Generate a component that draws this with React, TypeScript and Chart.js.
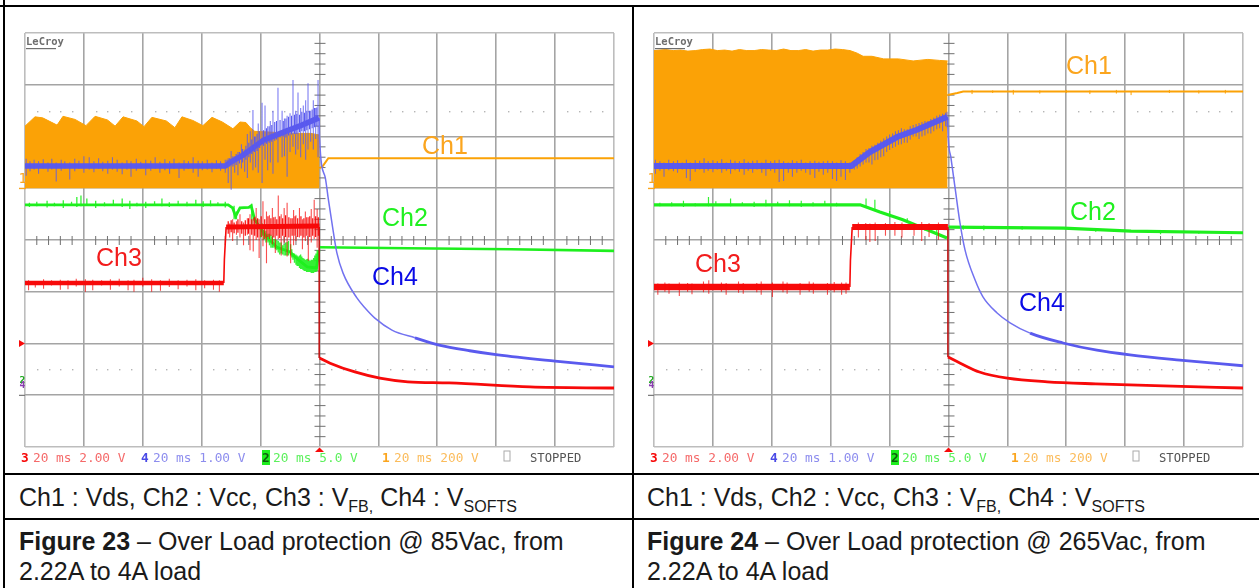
import React, { useEffect, useRef } from "react";
import { Chart, registerables } from "chart.js";

Chart.register(...registerables);

type P = [number, number];
type S = [number, number, number];

// ---- Time base: ms across the screen (20 ms/div); values: screen divisions above the bottom graticule line.

// Figure 23
const orange23T = [0, 3.4, 6, 10.9, 12.9, 17, 20.7, 23.8, 28, 30.6, 33.3, 38, 40.4, 43.1, 48, 50.9, 53.3, 57, 60.4, 63.5, 67, 70.6, 73, 75, 76.5, 78, 85, 92, 97, 100];
const orange23V = [6.2, 6.38, 6.36, 6.22, 6.39, 6.33, 6.21, 6.39, 6.32, 6.2, 6.38, 6.3, 6.19, 6.37, 6.3, 6.17, 6.38, 6.31, 6.21, 6.37, 6.28, 6.15, 6.28, 6.27, 6.17, 6.1, 6.08, 6.06, 6.06, 6.03];
const orange23AfterT = [100, 101, 102, 103, 120, 150, 180, 200];
const orange23AfterV = [5.39, 5.42, 5.5, 5.58, 5.58, 5.58, 5.58, 5.58];
const blue23T = [0, 68, 70, 74, 81, 88, 94, 99.8];
const blue23V = [5.43, 5.43, 5.51, 5.64, 5.93, 6.09, 6.22, 6.36];
const blue23DecayT = [99.9, 100, 101.9, 102.9, 104.6, 105.9, 108, 112.7, 115.4, 118.8, 124.6, 132.4, 140.6, 151, 160.6, 180, 200];
const blue23DecayV = [6.36, 5.99, 5.22, 4.83, 4.19, 3.75, 3.36, 2.88, 2.69, 2.49, 2.26, 2.11, 1.97, 1.86, 1.78, 1.66, 1.55];
const blue23Flat: S[] = [[0.4, 5.24, 5.57], [1.7, 5.33, 5.52], [3.1, 5.36, 5.55], [4.6, 5.28, 5.52], [6.2, 5.38, 5.56], [7.8, 5.32, 5.5], [9.1, 5.36, 5.57], [10.6, 5.13, 5.5], [12.3, 5.34, 5.55], [13.5, 5.38, 5.52], [15.2, 5.17, 5.5], [16.9, 5.33, 5.57], [18.3, 5.37, 5.53], [20, 5.3, 5.62], [21.8, 5.36, 5.6], [23.4, 5.31, 5.52], [25, 5.37, 5.58], [26.4, 5.33, 5.51], [28.1, 5.28, 5.53], [29.7, 5.36, 5.6], [31.3, 5.32, 5.55], [33, 5.27, 5.5], [34.6, 5.36, 5.54], [36, 5.22, 5.52], [37.8, 5.34, 5.57], [39.3, 5.38, 5.51], [41, 5.25, 5.55], [42.7, 5.34, 5.53], [44.2, 5.37, 5.6], [45.8, 5.3, 5.51], [47.5, 5.35, 5.56], [49.1, 5.28, 5.52], [50.6, 5.37, 5.57], [52.3, 5.2, 5.5], [54, 5.34, 5.54], [55.5, 5.37, 5.52], [57.1, 5.3, 5.6], [58.8, 5.22, 5.53], [60.2, 5.35, 5.52], [61.9, 5.36, 5.55], [63.5, 5.31, 5.5], [65, 5.37, 5.54], [66.4, 5.34, 5.52]];
const blue23Rise: S[] = [[68, 5.3, 5.55], [69, 5.1, 5.58], [70, 4.97, 5.72], [71.2, 5.3, 5.62], [72.3, 5.25, 5.7], [73.5, 5.38, 5.85], [74.6, 5.32, 5.75], [75.5, 5.2, 6.05], [76.5, 5.5, 6.1], [77.4, 5.35, 6.51], [78.3, 5.4, 6.0], [79.2, 5.3, 6.25], [80.5, 5.1, 6.65], [81.5, 5.55, 6.6], [82.4, 5.35, 6.2], [83.3, 5.5, 6.3], [84.2, 5.28, 6.5], [85.9, 5.5, 6.94], [87.3, 5.6, 6.5], [88.1, 5.62, 6.35], [89, 5.22, 6.4], [90, 5.7, 6.45], [91, 5.8, 7.09], [91.9, 5.65, 6.5], [92.7, 5.75, 6.85], [93.6, 5.6, 6.55], [94.5, 5.85, 6.6], [95.3, 5.55, 6.7], [96.1, 5.75, 7.03], [97, 5.9, 6.5], [97.9, 5.75, 6.7], [98.7, 5.95, 6.55], [99.5, 5.6, 7.09]];
const blue23RiseBand: S[] = [[68.6, 5.4, 5.55], [69.5, 5.42, 5.58], [70.6, 5.42, 5.62], [71.7, 5.45, 5.66], [72.8, 5.48, 5.7], [73.9, 5.5, 5.76], [75, 5.55, 5.82], [76, 5.6, 5.88], [77, 5.66, 5.94], [77.9, 5.7, 6.0], [78.8, 5.72, 6.05], [79.7, 5.78, 6.1], [81, 5.82, 6.12], [82, 5.86, 6.16], [82.9, 5.88, 6.2], [83.8, 5.9, 6.22], [84.8, 5.92, 6.28], [85.4, 5.94, 6.3], [86.6, 5.98, 6.32], [87.7, 6.0, 6.3], [88.6, 5.98, 6.35], [89.5, 6.02, 6.38], [90.5, 6.04, 6.4], [91.5, 6.05, 6.42], [92.3, 6.05, 6.44], [93.2, 6.08, 6.42], [94, 6.1, 6.48], [94.9, 6.1, 6.46], [95.7, 6.12, 6.5], [96.6, 6.14, 6.5], [97.5, 6.16, 6.52], [98.3, 6.18, 6.55], [99.1, 6.2, 6.56]];
const green23T = [0, 69, 70.5, 71.5, 73, 76, 76.8, 78, 82, 85.6, 90, 91.7, 95.8, 99, 99.8];
const green23V = [4.68, 4.68, 4.62, 4.46, 4.62, 4.63, 4.66, 4.39, 4.06, 3.86, 3.77, 3.67, 3.48, 3.46, 3.8];
const green23AfterT = [100, 130, 165, 200];
const green23AfterV = [3.86, 3.84, 3.82, 3.79];
const green23Noise: S[] = [[1.5, 4.64, 4.72], [4, 4.65, 4.74], [7.5, 4.63, 4.76], [10, 4.65, 4.72], [13, 4.62, 4.77], [15.8, 4.66, 4.74], [17.6, 4.64, 4.83], [19, 4.65, 4.86], [21, 4.66, 4.8], [24, 4.62, 4.76], [27, 4.65, 4.73], [30, 4.66, 4.78], [33, 4.64, 4.8], [35.6, 4.6, 4.76], [38, 4.65, 4.72], [41, 4.62, 4.74], [44, 4.66, 4.75], [46.5, 4.65, 4.8], [49, 4.64, 4.73], [52, 4.66, 4.76], [55, 4.65, 4.74], [58, 4.66, 4.78], [60.5, 4.64, 4.75], [63, 4.65, 4.77], [65.5, 4.66, 4.73], [68, 4.63, 4.74], [71, 4.4, 4.66], [71.8, 4.4, 4.55], [77, 4.3, 4.7], [79, 4.2, 4.4], [80, 4.05, 4.3], [80.6, 4.08, 4.32], [81, 4.0, 4.2], [81.8, 3.95, 4.18], [82.5, 3.95, 4.12], [83, 3.9, 4.12], [83.5, 3.85, 4.1], [84, 3.85, 4.06], [84.5, 3.85, 4.02], [85, 3.82, 4.02], [85.5, 3.8, 4.0], [86, 3.76, 3.98], [86.5, 3.72, 3.95], [87, 3.74, 3.95], [87.5, 3.72, 3.9], [88, 3.7, 3.92], [88.5, 3.7, 3.95], [89, 3.7, 3.96], [89.5, 3.7, 3.98], [90.2, 3.7, 3.92], [90.6, 3.66, 3.82], [91, 3.62, 3.75], [91.5, 3.56, 3.74], [92, 3.52, 3.72], [92.4, 3.5, 3.7], [92.8, 3.5, 3.68], [93.2, 3.46, 3.7], [93.6, 3.44, 3.72], [94, 3.44, 3.68], [94.4, 3.42, 3.65], [94.8, 3.4, 3.64], [95.2, 3.4, 3.62], [95.6, 3.38, 3.63], [96, 3.38, 3.64], [96.4, 3.38, 3.62], [96.8, 3.38, 3.6], [97.2, 3.36, 3.62], [97.6, 3.36, 3.62], [98, 3.36, 3.65], [98.4, 3.38, 3.7], [98.8, 3.38, 3.74], [99.2, 3.4, 3.8]];
const red23T = [0, 67.5, 67.7, 68.3, 100];
const red23V = [3.17, 3.17, 3.62, 4.25, 4.27];
const red23DecayT = [100, 103.6, 112, 120.5, 130, 144, 171.5, 200];
const red23DecayV = [1.72, 1.62, 1.45, 1.33, 1.26, 1.24, 1.16, 1.14];
const red23Noise: S[] = [[1.2, 3.03, 3.22], [3.5, 3.08, 3.21], [6.3, 3.06, 3.24], [9, 3.12, 3.22], [12, 3.04, 3.23], [14.6, 3.05, 3.22], [17.4, 3.1, 3.25], [20.5, 3.0, 3.24], [23, 3.03, 3.23], [26, 3.12, 3.22], [29, 3.04, 3.24], [32, 3.1, 3.25], [35, 3.03, 3.22], [37, 3.0, 3.23], [40, 3.1, 3.27], [43, 3.0, 3.24], [46, 3.02, 3.22], [49, 3.09, 3.25], [52, 3.05, 3.22], [55, 3.1, 3.23], [58, 3.03, 3.24], [61, 3.07, 3.22], [64, 3.04, 3.23], [66, 3.0, 3.22], [69.5, 4.05, 4.32], [70.5, 3.98, 4.4], [71.8, 4.1, 4.36], [73, 4.05, 4.5], [74.2, 3.9, 4.34], [75.5, 4.1, 4.42], [76.4, 3.8, 4.5], [77.5, 3.78, 4.42], [78.5, 4.0, 4.62], [79.5, 3.65, 4.4], [80.8, 3.88, 4.75], [82, 3.55, 4.55], [83, 4.02, 4.48], [84, 3.92, 4.62], [85, 3.75, 4.45], [86, 4.02, 4.86], [87, 3.7, 4.5], [88, 3.95, 4.62], [89, 3.68, 4.72], [90.2, 3.55, 4.42], [91.2, 3.9, 4.58], [92, 3.98, 4.48], [93.2, 4.05, 4.62], [94.2, 3.82, 4.4], [95.2, 3.98, 4.55], [96.2, 3.6, 4.44], [97.2, 3.95, 4.6], [98.2, 4.02, 4.78], [99.2, 3.85, 4.6]];
const red23HighBand: S[] = [[69, 4.12, 4.36], [70, 4.15, 4.38], [71, 4.13, 4.34], [72.3, 4.14, 4.4], [73.6, 4.12, 4.36], [74.8, 4.08, 4.38], [75.9, 4.12, 4.42], [77, 4.1, 4.4], [78, 4.08, 4.45], [79, 4.05, 4.42], [80.2, 4.06, 4.46], [81.4, 4.02, 4.4], [82.5, 4.06, 4.46], [83.5, 4.08, 4.42], [84.5, 4.05, 4.44], [85.5, 4.08, 4.4], [86.5, 4.04, 4.46], [87.5, 4.08, 4.42], [88.5, 4.06, 4.48], [89.6, 4.05, 4.44], [90.7, 4.08, 4.42], [91.7, 4.08, 4.46], [92.6, 4.06, 4.42], [93.7, 4.08, 4.46], [94.7, 4.05, 4.42], [95.7, 4.08, 4.44], [96.7, 4.06, 4.46], [97.7, 4.08, 4.42], [98.7, 4.06, 4.46], [99.6, 4.08, 4.44]];

// Figure 24
const orange24T = [0, 2, 4, 6.5, 9, 11.5, 14, 16.5, 19, 21.5, 24, 26.5, 29, 31.5, 34, 36.5, 39, 41.5, 44, 46.5, 49, 51.5, 54, 56.5, 59, 61.5, 64, 66.6, 69, 71, 74, 78, 83, 88, 93, 97, 99.7];
const orange24V = [7.66, 7.67, 7.68, 7.66, 7.67, 7.65, 7.66, 7.68, 7.69, 7.66, 7.67, 7.65, 7.68, 7.66, 7.66, 7.68, 7.67, 7.66, 7.69, 7.66, 7.66, 7.68, 7.65, 7.67, 7.67, 7.69, 7.68, 7.66, 7.61, 7.55, 7.55, 7.5, 7.5, 7.46, 7.49, 7.47, 7.46];
const orange24AfterT = [99.7, 103, 105, 130, 160, 200];
const orange24AfterV = [6.8, 6.84, 6.87, 6.87, 6.87, 6.87];
const orangeNoise: S[] = [[108, 6.82, 6.9], [115, 6.84, 6.89], [122, 6.81, 6.9], [131, 6.83, 6.89], [140, 6.84, 6.9], [148, 6.82, 6.89], [157, 6.83, 6.9], [162, 6.8, 6.88], [175, 6.84, 6.9], [185, 6.83, 6.89], [194, 6.83, 6.9]];
const blue24T = [0, 67, 73.3, 82.5, 89.3, 99.6];
const blue24V = [5.43, 5.43, 5.7, 5.99, 6.13, 6.38];
const blue24DecayT = [99.7, 99.9, 100.8, 102.2, 103.9, 105.6, 109, 111.7, 116.5, 120.9, 127.7, 138.9, 150.4, 161.6, 178.6, 200];
const blue24DecayV = [6.38, 5.99, 5.6, 5.02, 4.33, 3.81, 3.23, 2.9, 2.59, 2.4, 2.2, 2.01, 1.87, 1.78, 1.68, 1.57];
const blue24Noise: S[] = [[0.5, 5.28, 5.55], [2, 5.34, 5.52], [3.4, 5.22, 5.5], [5, 5.35, 5.55], [6.6, 5.33, 5.52], [8, 5.3, 5.54], [9.6, 5.36, 5.5], [11, 5.2, 5.55], [12.3, 5.14, 5.5], [14, 5.32, 5.54], [15.5, 5.36, 5.53], [17, 5.3, 5.58], [18.4, 5.34, 5.52], [20, 5.31, 5.54], [21.5, 5.36, 5.52], [23, 5.3, 5.56], [24.6, 5.34, 5.5], [26, 5.28, 5.55], [27.5, 5.35, 5.53], [29, 5.32, 5.52], [30.6, 5.26, 5.56], [32, 5.34, 5.51], [33.5, 5.3, 5.53], [35, 5.36, 5.54], [36.6, 5.3, 5.5], [38, 5.24, 5.55], [39.6, 5.34, 5.52], [41, 5.3, 5.54], [42.5, 5.12, 5.55], [44, 5.14, 5.52], [45.6, 5.3, 5.5], [47, 5.22, 5.54], [48.5, 5.3, 5.52], [50, 5.34, 5.55], [51.5, 5.3, 5.5], [53, 5.26, 5.52], [54.6, 5.2, 5.53], [56, 5.32, 5.51], [57.5, 5.26, 5.52], [59, 5.3, 5.53], [60.6, 5.18, 5.52], [62, 5.14, 5.5], [63.5, 5.22, 5.54], [65, 5.16, 5.52], [66.5, 5.3, 5.5], [68, 5.36, 5.54], [69, 5.38, 5.6], [70, 5.42, 5.66], [71, 5.46, 5.7], [72, 5.5, 5.76], [73, 5.5, 5.78], [74, 5.46, 5.82], [75, 5.54, 5.84], [76, 5.55, 5.88], [77, 5.6, 5.92], [78, 5.62, 5.96], [79, 5.7, 6.0], [80, 5.74, 6.04], [81, 5.78, 6.06], [82, 5.8, 6.1], [83, 5.84, 6.12], [84, 5.85, 6.16], [85, 5.88, 6.14], [86, 5.88, 6.14], [87, 5.94, 6.2], [88, 6.0, 6.22], [89, 6.0, 6.24], [90, 5.95, 6.26], [91, 6.0, 6.28], [92, 6.02, 6.3], [93, 6.06, 6.3], [94, 6.06, 6.34], [95, 6.1, 6.36], [96, 6.14, 6.4], [97, 6.16, 6.42], [98, 6.1, 6.44], [99, 6.2, 6.46], [99.5, 6.18, 6.48]];
const green24T = [0, 70, 76.7, 84.5, 91.3, 99.5];
const green24V = [4.68, 4.68, 4.54, 4.39, 4.23, 4.04];
const green24AfterT = [100, 139, 162, 200];
const green24AfterV = [4.25, 4.23, 4.17, 4.14];
const green24Noise: S[] = [[2, 4.65, 4.72], [6, 4.65, 4.73], [10, 4.64, 4.76], [14, 4.65, 4.71], [18.5, 4.65, 4.83], [21, 4.66, 4.75], [26, 4.65, 4.8], [30, 4.66, 4.73], [34, 4.64, 4.74], [38, 4.65, 4.78], [42, 4.66, 4.74], [46, 4.65, 4.77], [50, 4.64, 4.76], [54, 4.65, 4.73], [58, 4.66, 4.76], [62, 4.65, 4.72], [72, 4.62, 4.8], [75, 4.56, 4.78], [80, 4.46, 4.56], [86, 4.33, 4.42], [92, 4.18, 4.3], [96, 4.08, 4.2], [105, 4.2, 4.28], [112, 4.19, 4.28], [125, 4.2, 4.27], [150, 4.16, 4.22], [172, 4.11, 4.18], [185, 4.12, 4.17]];
const red24T = [0, 66.5, 66.7, 67.3, 99.8];
const red24V = [3.09, 3.09, 3.6, 4.25, 4.25];
const red24DecayT = [99.8, 104, 110.5, 120, 133.5, 150, 173, 200];
const red24DecayV = [1.74, 1.62, 1.45, 1.33, 1.26, 1.22, 1.18, 1.14];
const red24Noise: S[] = [[1.3, 2.94, 3.16], [3.7, 3.0, 3.18], [5.1, 2.96, 3.16], [8.6, 2.92, 3.18], [11.4, 3.0, 3.17], [12.9, 2.95, 3.16], [16.8, 2.99, 3.2], [18.6, 2.96, 3.22], [22.9, 3.0, 3.18], [24.5, 2.94, 3.17], [28.7, 2.98, 3.2], [30.3, 2.96, 3.17], [34.9, 2.99, 3.17], [36.4, 2.94, 3.2], [40.2, 2.9, 3.18], [43.8, 2.99, 3.2], [45.2, 2.96, 3.18], [49.6, 2.94, 3.17], [52.7, 3.0, 3.2], [54.1, 2.96, 3.18], [58.9, 2.94, 3.17], [61.2, 2.99, 3.19], [63.7, 2.94, 3.18], [65.2, 2.96, 3.18], [69.4, 4.05, 4.34], [71.9, 4.0, 4.33], [73.3, 3.96, 4.32], [75.1, 3.98, 4.34], [78.6, 4.08, 4.33], [81.8, 4.08, 4.35], [84.2, 4.05, 4.34], [88.3, 4.08, 4.33], [90.9, 3.98, 4.35], [93.4, 4.06, 4.33], [96.6, 4.0, 4.34]];

// Screen annotations
const channelNames = ["Ch1", "Ch2", "Ch3", "Ch4"];
const scopeSettings = ["20 ms 2.00 V", "20 ms 1.00 V", "20 ms 5.0 V", "20 ms 200 V"];
const scopeChannels = ["3", "4", "2", "1"];

const ORANGE = "#fba206";
const GREEN = "#1eef1e";
const RED = "#f70a0a";
const BLUE = "#5a5aee";

const pts = (t: number[], v: number[]) => t.map((x, i) => ({ x, y: v[i] }));
const spikes = (list: S[]) => list.flatMap(([x, lo, hi]) => [{ x, y: lo }, { x, y: hi }, { x, y: null as any }]);

const line = (data: any[], color: string, width: number, extra: any = {}) => ({
  data,
  borderColor: color,
  backgroundColor: color,
  borderWidth: width,
  pointRadius: 0,
  tension: 0,
  spanGaps: false,
  fill: false,
  ...extra,
});

const W = 622;
const H = 466;
const PLOT_LEFT = 19;
const PLOT_TOP = 25;
const PLOT_W = 589;
const PLOT_H = 414;

function scopePlugin(labelPos: P[]) {
  return {
    id: "scopeScreen",
    beforeDatasetsDraw(chart: any) {
      const { ctx, scales } = chart;
      const x = scales.x;
      const y = scales.y;
      ctx.save();
      ctx.fillStyle = "#b5b5b5";
      [6.5, 1.5].forEach((r) => {
        for (let t = 4; t < 200; t += 4) {
          if (t % 20 === 0) continue;
          ctx.fillRect(Math.round(x.getPixelForValue(t)), Math.round(y.getPixelForValue(r)), 1.4, 1.4);
        }
      });
      ctx.fillStyle = "#707070";
      const cx = x.getPixelForValue(100);
      const cy = y.getPixelForValue(4);
      for (let d = 1; d < 40; d++) {
        if (d % 5 === 0) continue;
        const py = y.getPixelForValue(d * 0.2);
        ctx.fillRect(cx - 5, py - 0.5, 11, 1);
      }
      for (let d = 1; d < 50; d++) {
        if (d % 5 === 0) continue;
        const px = x.getPixelForValue(d * 4);
        ctx.fillRect(px - 0.5, cy - 4, 1, 9);
      }
      ctx.restore();
    },
    afterDatasetsDraw(chart: any) {
      const { ctx, chartArea: a, scales } = chart;
      ctx.save();
      ctx.textBaseline = "alphabetic";
      const colors = ["#fba51e", "#20f020", "#f21c1c", "#0a0ae6"];
      ctx.font = "25px 'Liberation Sans'";
      ctx.textAlign = "center";
      channelNames.forEach((n, i) => {
        ctx.fillStyle = colors[i];
        ctx.fillText(n, labelPos[i][0], labelPos[i][1]);
      });
      ctx.textAlign = "left";
      ctx.fillStyle = "#6e6e6e";
      ctx.font = "bold 10.5px 'DejaVu Sans Mono'";
      ctx.fillText("LeCroy", a.left + 1, a.top + 12);
      ctx.fillRect(a.left + 1, a.top + 15, 30, 1.2);
      ctx.fillStyle = "#fba51e";
      ctx.font = "14px 'DejaVu Sans Mono'";
      ctx.fillText("1", a.left - 6.5, a.top + 150);
      ctx.fillRect(a.left - 6, scales.y.getPixelForValue(5) - 0.5, 7, 1.4);
      ctx.fillStyle = RED;
      ctx.beginPath();
      const my = scales.y.getPixelForValue(2);
      ctx.moveTo(a.left - 6, my - 3.5);
      ctx.lineTo(a.left, my);
      ctx.lineTo(a.left - 6, my + 3.5);
      ctx.fill();
      ctx.beginPath();
      const mx = scales.x.getPixelForValue(100);
      ctx.moveTo(mx - 4.5, a.bottom + 5);
      ctx.lineTo(mx, a.bottom + 0.5);
      ctx.lineTo(mx + 4.5, a.bottom + 5);
      ctx.fill();
      ctx.font = "bold 9.5px 'DejaVu Sans Mono'";
      ctx.fillStyle = "#1eaa1e";
      ctx.fillText("2", a.left - 5.5, a.top + 350);
      ctx.fillStyle = "#8a3fb0";
      ctx.fillText("4", a.left - 5.5, a.top + 355);
      ctx.fillStyle = "#777";
      ctx.fillRect(a.left - 6, scales.y.getPixelForValue(1) - 0.5, 6, 1.2);
      const base = a.bottom + 15;
      const tx = [a.left + 8, a.left + 128, a.left + 248, a.left + 369];
      const cxs = [a.left - 4, a.left + 116, a.left + 237, a.left + 357];
      const soft = ["#f56a6a", "#8d8dee", "#5cf05c", "#fbbc5c"];
      const hard = [RED, "#4a4ae6", "#0a0a0a", "#fba51e"];
      scopeSettings.forEach((s, i) => {
        if (i === 2) {
          ctx.fillStyle = "#1eee1e";
          ctx.fillRect(cxs[i], base - 12, 8, 15);
        }
        ctx.fillStyle = i === 2 ? "#0d5d0d" : hard[i];
        ctx.font = "bold 12.8px 'DejaVu Sans Mono'";
        ctx.fillText(scopeChannels[i], cxs[i], base);
        ctx.fillStyle = soft[i];
        ctx.font = "12.8px 'DejaVu Sans Mono'";
        ctx.fillText(s, tx[i], base);
      });
      ctx.strokeStyle = "#aaa";
      ctx.lineWidth = 1;
      ctx.strokeRect(a.left + 479, base - 11, 6, 10);
      ctx.fillStyle = "#555";
      ctx.font = "12.2px 'DejaVu Sans Mono'";
      ctx.fillText("STOPPED", a.left + 505, base);
      ctx.restore();
    },
  };
}

function makeChart(canvas: HTMLCanvasElement, datasets: any[], labelPos: P[]) {
  const edge = (ctx: any) => {
    const n = ctx.scale.ticks.length - 1;
    return ctx.index === 0 || ctx.index === n ? "#bdbdbd" : "#a4a4a4";
  };
  return new Chart(canvas, {
    type: "line",
    data: { datasets },
    plugins: [scopePlugin(labelPos)],
    options: {
      animation: false,
      responsive: false,
      devicePixelRatio: 1,
      normalized: false,
      layout: {
        padding: { left: PLOT_LEFT, top: PLOT_TOP, right: W - PLOT_LEFT - PLOT_W, bottom: H - PLOT_TOP - PLOT_H },
      },
      plugins: { legend: { display: false }, tooltip: { enabled: false } },
      scales: {
        x: {
          type: "linear",
          min: 0,
          max: 200,
          ticks: { display: false, stepSize: 20, autoSkip: false },
          grid: { color: edge, lineWidth: 1.6, drawTicks: false },
          border: { display: false },
        },
        y: {
          type: "linear",
          min: 0,
          max: 8,
          ticks: { display: false, stepSize: 1, autoSkip: false },
          grid: { color: edge, lineWidth: 1.6, drawTicks: false },
          border: { display: false },
        },
      },
    } as any,
  });
}

const PALE_BLUE = "rgba(90,90,238,0.78)";
const PALE_RED = "rgba(247,10,10,0.72)";
const PALE_GREEN = "rgba(30,239,30,0.9)";

const decayBlue = (split: number) => ({
  cubicInterpolationMode: "monotone",
  segment: {
    borderWidth: (c: any) => (c.p0.parsed.x >= split ? 2.8 : 1.5),
    borderColor: (c: any) => (c.p0.parsed.x >= split ? BLUE : "#7272f0"),
  },
});
const smooth = { cubicInterpolationMode: "monotone" };
// The step edge of the feedback trace is a thin stroke; the flat runs on either side are wide noise bands.
const redStep = (from: number, to: number, low: number, high: number) => ({
  segment: {
    borderWidth: (c: any) => {
      const x = c.p0.parsed.x;
      if (x >= from && x < to) return 1.6;
      return x < from ? low : high;
    },
  },
});

const datasets23 = () => [
  line(spikes(blue23Rise), PALE_BLUE, 1.1),
  line(spikes(blue23RiseBand), BLUE, 1.1),
  line(spikes(blue23Flat), PALE_BLUE, 1.1),
  line(pts(blue23T, blue23V), BLUE, 5.5),
  line(pts(blue23DecayT, blue23DecayV), BLUE, 2, decayBlue(128)),
  line(spikes(red23Noise), PALE_RED, 1.1),
  line(spikes(red23HighBand), RED, 1.2),
  line(pts(red23T, red23V), RED, 4.5, redStep(67, 68.3, 4.5, 5)),
  line([{ x: 99.9, y: 4.25 }, { x: 99.9, y: red23DecayV[0] }], "#c01616", 1.6),
  line(pts(red23DecayT, red23DecayV), RED, 2.8, smooth),
  line(spikes(green23Noise), PALE_GREEN, 1.3),
  line(pts(green23T, green23V), GREEN, 2.8),
  line(pts(green23AfterT, green23AfterV), GREEN, 2.6),
  line(pts(orange23AfterT, orange23AfterV), ORANGE, 2),
  line(pts(orange23T, orange23V), ORANGE, 1, { fill: { value: 5 } }),
];

const datasets24 = () => [
  line(spikes(blue24Noise), PALE_BLUE, 1.1),
  line(pts(blue24T, blue24V), BLUE, 6),
  line(pts(blue24DecayT, blue24DecayV), BLUE, 2, decayBlue(125)),
  line(spikes(red24Noise), PALE_RED, 1.1),
  line(pts(red24T, red24V), RED, 6.5, redStep(66, 67.3, 6.5, 6)),
  line([{ x: 99.8, y: 4.25 }, { x: 99.8, y: red24DecayV[0] }], "#c01616", 1.6),
  line(pts(red24DecayT, red24DecayV), RED, 2.8, smooth),
  line(spikes(green24Noise), PALE_GREEN, 1.2),
  line(pts(green24T, green24V), GREEN, 3.2),
  line(pts(green24AfterT, green24AfterV), GREEN, 3.2),
  line(spikes(orangeNoise), ORANGE, 1),
  line(pts(orange24AfterT, orange24AfterV), ORANGE, 2),
  line(pts(orange24T, orange24V), ORANGE, 1, { fill: { value: 5 } }),
];

const rule = (left: number, top: number, width: number, height: number): React.CSSProperties => ({
  position: "absolute",
  left,
  top,
  width,
  height,
  background: "#000",
});

const sub: React.CSSProperties = { fontSize: 16, position: "relative", top: 6, lineHeight: 0, verticalAlign: "baseline" };

function Caption({ left, fig, vac }: { left: number; fig: string; vac: string }) {
  const base: React.CSSProperties = {
    position: "absolute",
    left,
    fontFamily: "'Liberation Sans', Arial, sans-serif",
    color: "#1a1a1a",
    whiteSpace: "nowrap",
    fontSize: 25,
    lineHeight: "28px",
  };
  return (
    <>
      <div style={{ ...base, top: 483 }}>
        Ch1 : Vds, Ch2 : Vcc, Ch3 : V<span style={sub}>FB,</span> Ch4 : V<span style={sub}>SOFTS</span>
      </div>
      <div style={{ ...base, top: 527 }}>
        <b>Figure {fig}</b> – Over Load protection @ {vac}Vac, from
      </div>
      <div style={{ ...base, top: 557 }}>2.22A to 4A load</div>
    </>
  );
}

export default function App() {
  const a = useRef<HTMLCanvasElement>(null);
  const b = useRef<HTMLCanvasElement>(null);
  useEffect(() => {
    const c1 = makeChart(a.current!, datasets23(), [[439, 146], [399, 218], [113, 258], [389, 277]]);
    const c2 = makeChart(b.current!, datasets24(), [[454, 66], [458, 212], [83, 264], [407, 303]]);
    return () => {
      c1.destroy();
      c2.destroy();
    };
  }, []);
  return (
    <div style={{ position: "absolute", left: 0, top: 0, width: 1259, height: 588, overflow: "hidden", background: "#fff" }}>
      <canvas ref={a} width={W} height={H} style={{ position: "absolute", left: 6, top: 8, width: W, height: H }} />
      <canvas ref={b} width={W} height={H} style={{ position: "absolute", left: 635, top: 8, width: W, height: H }} />
      <div style={rule(0, 5, 1259, 2)} />
      <div style={rule(3, 0, 2, 588)} />
      <div style={rule(632, 5, 2, 583)} />
      <div style={rule(3, 473, 1256, 2)} />
      <div style={rule(3, 518, 1256, 2)} />
      <Caption left={19} fig="23" vac="85" />
      <Caption left={647} fig="24" vac="265" />
    </div>
  );
}
